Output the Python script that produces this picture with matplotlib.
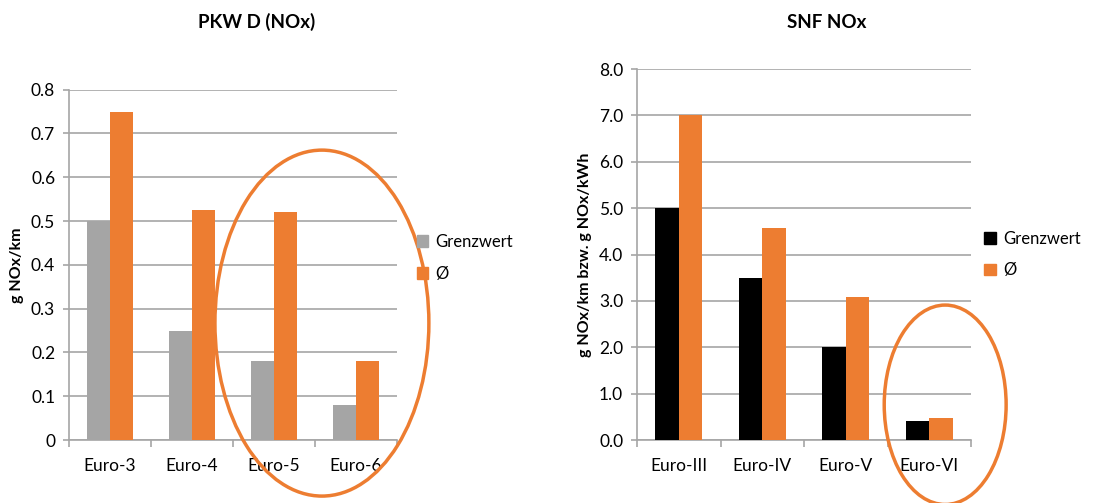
import matplotlib.pyplot as plt
import numpy as np
from matplotlib.patches import Ellipse, Patch

plt.rcParams['font.family'] = ['Lato', 'DejaVu Sans']

# PKW diesel NOx (g/km)
pkw_categories = ['Euro-3', 'Euro-4', 'Euro-5', 'Euro-6']
pkw_grenzwert = [0.5, 0.25, 0.18, 0.08]
pkw_mittel = [0.75, 0.525, 0.52, 0.18]

# SNF NOx (g/km bzw. g/kWh)
snf_categories = ['Euro-III', 'Euro-IV', 'Euro-V', 'Euro-VI']
snf_grenzwert = [5.0, 3.5, 2.0, 0.4]
snf_mittel = [7.0, 4.57, 3.08, 0.47]

ORANGE = '#ED7D31'
GREY = '#A5A5A5'
GRID = '#A6A6A6'


def bar_panel(ax, cats, grenz, mittel, grenz_color, ylabel, ymax, step, fmt):
    x = np.arange(len(cats))
    w = 0.28
    ax.bar(x - w / 2, grenz, w, color=grenz_color, zorder=3)
    ax.bar(x + w / 2, mittel, w, color=ORANGE, zorder=3)
    ax.set_xlim(-0.5, len(cats) - 0.5)
    ax.set_ylim(0, ymax)
    ticks = np.arange(0, ymax + step / 2, step)
    ax.set_yticks(ticks)
    ax.set_yticklabels([fmt.format(v) for v in ticks])
    ax.yaxis.grid(True, color=GRID, linewidth=1.2, zorder=0)
    ax.set_xticks(x)
    ax.set_xticklabels(cats)
    ax.set_xticks(np.arange(-0.5, len(cats)), minor=True)
    ax.tick_params(axis='x', which='major', length=0, pad=13, labelsize=12.5)
    ax.tick_params(axis='x', which='minor', length=5, color=GRID, width=1.2)
    ax.tick_params(axis='y', length=4, color=GRID, width=1.2, labelsize=12.5, pad=6)
    for s in ['top', 'right']:
        ax.spines[s].set_visible(False)
    for s in ['left', 'bottom']:
        ax.spines[s].set_color(GRID)
        ax.spines[s].set_linewidth(1.2)
    ax.set_ylabel(ylabel, fontsize=11.5, fontweight='bold', labelpad=5)
    return [Patch(color=grenz_color), Patch(color=ORANGE)]


fig = plt.figure(figsize=(11.19, 5.03), dpi=100)
ax1 = fig.add_axes([0.0617, 0.1252, 0.293, 0.6965])
ax2 = fig.add_axes([0.5693, 0.1252, 0.2985, 0.7376])

h1 = bar_panel(ax1, pkw_categories, pkw_grenzwert, pkw_mittel, GREY,
               'g NOx/km', 0.8, 0.1, '{:g}')
h2 = bar_panel(ax2, snf_categories, snf_grenzwert, snf_mittel, 'black',
               'g NOx/km bzw. g NOx/kWh', 8.0, 1.0, '{:.1f}')

ax1.legend(h1, ['Grenzwert', 'Ø'], loc='center left', bbox_to_anchor=(1.06, 0.52),
           frameon=False, fontsize=12, handlelength=0.7, handleheight=0.7,
           handletextpad=0.4, labelspacing=0.95, borderaxespad=0, borderpad=0)
ax2.legend(h2, ['Grenzwert', 'Ø'], loc='center left', bbox_to_anchor=(1.04, 0.5),
           frameon=False, fontsize=12, handlelength=0.7, handleheight=0.7,
           handletextpad=0.4, labelspacing=0.95, borderaxespad=0, borderpad=0)

fig.text(257 / 1119, 1 - 22 / 503, 'PKW D (NOx)', ha='center', va='center',
         fontsize=13.5, fontweight='bold')
fig.text(827 / 1119, 1 - 22 / 503, 'SNF NOx', ha='center', va='center',
         fontsize=13.5, fontweight='bold')

# highlight ellipses
ax1.add_patch(Ellipse((2.585, 0.267), 2.61, 0.79, fill=False, edgecolor=ORANGE,
                      linewidth=2.5, clip_on=False, zorder=5))
ax2.add_patch(Ellipse((3.19, 0.76), 1.46, 4.3, fill=False, edgecolor=ORANGE,
                      linewidth=2.5, clip_on=False, zorder=5))

fig.savefig('out.png', dpi=100)
